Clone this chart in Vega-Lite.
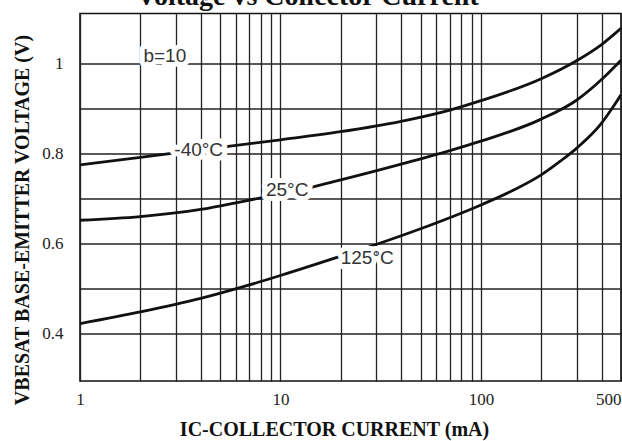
{
  "$schema": "https://vega.github.io/schema/vega-lite/v6.json",
  "width": 541,
  "height": 367.5,
  "autosize": {"type": "none"},
  "padding": {"left": 80, "top": 13.5, "right": 1, "bottom": 60},
  "background": "white",
  "config": {
    "view": {"stroke": "#111", "strokeWidth": 1.6},
    "axis": {
      "domain": false,
      "ticks": false,
      "tickSize": 0,
      "grid": true,
      "gridColor": "#222",
      "gridWidth": 1.3,
      "gridOpacity": 1,
      "labelFont": "Liberation Serif",
      "labelFontSize": 17,
      "labelColor": "#222",
      "titleFont": "Liberation Serif",
      "titleFontSize": 20,
      "titleFontWeight": "bold",
      "titleColor": "#111"
    }
  },
  "datasets": {
    "curves": [
      {"I": 1, "V": 0.774, "T": "-40"},
      {"I": 2, "V": 0.791, "T": "-40"},
      {"I": 3, "V": 0.801, "T": "-40"},
      {"I": 5, "V": 0.813, "T": "-40"},
      {"I": 10, "V": 0.830, "T": "-40"},
      {"I": 20, "V": 0.848, "T": "-40"},
      {"I": 40, "V": 0.871, "T": "-40"},
      {"I": 70, "V": 0.896, "T": "-40"},
      {"I": 100, "V": 0.917, "T": "-40"},
      {"I": 200, "V": 0.966, "T": "-40"},
      {"I": 300, "V": 1.006, "T": "-40"},
      {"I": 400, "V": 1.042, "T": "-40"},
      {"I": 500, "V": 1.078, "T": "-40"},

      {"I": 1, "V": 0.651, "T": "25"},
      {"I": 2, "V": 0.659, "T": "25"},
      {"I": 4, "V": 0.675, "T": "25"},
      {"I": 7, "V": 0.696, "T": "25"},
      {"I": 10, "V": 0.709, "T": "25"},
      {"I": 20, "V": 0.741, "T": "25"},
      {"I": 40, "V": 0.776, "T": "25"},
      {"I": 70, "V": 0.806, "T": "25"},
      {"I": 100, "V": 0.827, "T": "25"},
      {"I": 200, "V": 0.876, "T": "25"},
      {"I": 300, "V": 0.918, "T": "25"},
      {"I": 400, "V": 0.964, "T": "25"},
      {"I": 500, "V": 1.007, "T": "25"},

      {"I": 1, "V": 0.421, "T": "125"},
      {"I": 2, "V": 0.447, "T": "125"},
      {"I": 4, "V": 0.477, "T": "125"},
      {"I": 7, "V": 0.507, "T": "125"},
      {"I": 10, "V": 0.528, "T": "125"},
      {"I": 20, "V": 0.571, "T": "125"},
      {"I": 30, "V": 0.597, "T": "125"},
      {"I": 50, "V": 0.632, "T": "125"},
      {"I": 100, "V": 0.685, "T": "125"},
      {"I": 150, "V": 0.721, "T": "125"},
      {"I": 200, "V": 0.752, "T": "125"},
      {"I": 250, "V": 0.783, "T": "125"},
      {"I": 300, "V": 0.811, "T": "125"},
      {"I": 400, "V": 0.867, "T": "125"},
      {"I": 450, "V": 0.899, "T": "125"},
      {"I": 500, "V": 0.930, "T": "125"}
    ],
    "labels": [
      {"I": 2.65, "V": 1.016, "text": "b=10"},
      {"I": 3.91, "V": 0.808, "text": "-40°C"},
      {"I": 10.8, "V": 0.718, "text": "25°C"},
      {"I": 27.1, "V": 0.567, "text": "125°C"}
    ]
  },
  "resolve": {"axis": {"x": "independent"}},
  "layer": [
    {
      "data": {"name": "curves"},
      "mark": {"type": "line", "color": "#111", "strokeWidth": 2.8, "interpolate": "monotone", "clip": true},
      "encoding": {
        "x": {
          "field": "I",
          "type": "quantitative",
          "scale": {"type": "log", "domain": [1, 500], "nice": false},
          "axis": {
            "values": [1, 2, 3, 4, 5, 6, 7, 8, 9, 10, 20, 30, 40, 50, 60, 70, 80, 90, 100, 200, 300, 400, 500],
            "labelExpr": "datum.value == 1 || datum.value == 10 || datum.value == 100 || datum.value == 500 ? '' + datum.value : ''",
            "labelPadding": 10,
            "labelBaseline": "top",
            "labelAlign": {"condition": {"test": "datum.value == 500", "value": "right"}, "value": "center"},
            "labelBound": false,
            "labelFlush": false,
            "labelOverlap": false,
            "title": "IC-COLLECTOR CURRENT (mA)",
            "titleX": 254,
            "titleY": 54,
            "titleAlign": "center",
            "titleBaseline": "alphabetic"
          }
        },
        "y": {
          "field": "V",
          "type": "quantitative",
          "scale": {"domain": [0.2933, 1.111], "nice": false, "zero": false},
          "axis": {
            "values": [0.4, 0.5, 0.6, 0.7, 0.8, 0.9, 1.0],
            "format": "~g",
            "labelExpr": "datum.value == 0.4 || datum.value == 0.6 || datum.value == 0.8 || datum.value == 1 ? datum.label : ''",
            "labelPadding": 17,
            "labelOverlap": false,
            "title": "VBESAT BASE-EMITTER VOLTAGE (V)",
            "titleX": -52,
            "titleY": 206,
            "titleAlign": "center",
            "titleBaseline": "alphabetic"
          }
        },
        "detail": {"field": "T", "type": "nominal"}
      }
    },
    {
      "data": {"name": "labels"},
      "mark": {"type": "text", "font": "Liberation Sans", "fontSize": 19, "fill": "white", "stroke": "white", "strokeWidth": 10, "strokeJoin": "round", "baseline": "middle", "align": "center"},
      "encoding": {
        "x": {
          "field": "I",
          "type": "quantitative",
          "axis": {
            "orient": "top",
            "grid": false,
            "labels": false,
            "values": [],
            "title": "Voltage vs Collector Current",
            "titleFontSize": 28,
            "titleX": 227,
            "titleY": -9,
            "titleAlign": "center",
            "titleBaseline": "alphabetic"
          }
        },
        "y": {"field": "V", "type": "quantitative"},
        "text": {"field": "text"}
      }
    },
    {
      "data": {"name": "labels"},
      "mark": {"type": "text", "font": "Liberation Sans", "fontSize": 19, "fill": "#333", "baseline": "middle", "align": "center"},
      "encoding": {
        "x": {"field": "I", "type": "quantitative", "axis": null},
        "y": {"field": "V", "type": "quantitative"},
        "text": {"field": "text"}
      }
    }
  ]
}
